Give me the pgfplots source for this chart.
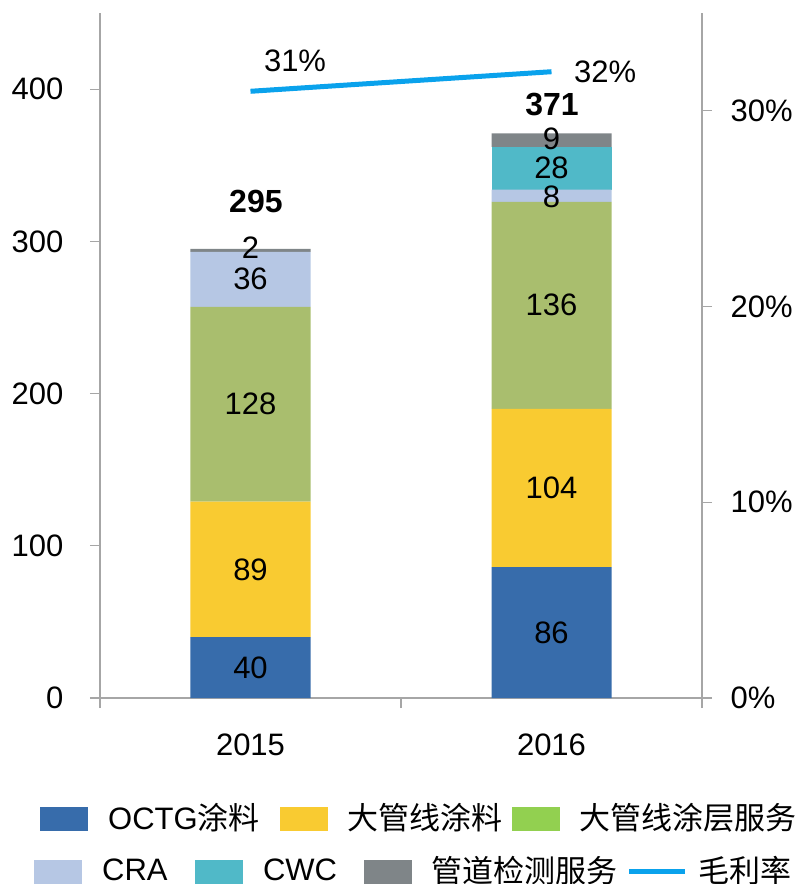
\documentclass[border=0pt]{standalone}
\usepackage{fontspec}
\setmainfont{Liberation Sans}
\newfontfamily\cjk{Noto Sans CJK SC}
\usepackage{pgfplots}
\usepackage{pgfplotstable}
\pgfplotsset{compat=1.18}
\definecolor{cOCTG}{HTML}{376CAB}
\definecolor{cYel}{HTML}{F9CB31}
\definecolor{cGrn}{HTML}{A9BE6E}
\definecolor{cGrnL}{HTML}{92D050}
\definecolor{cCRA}{HTML}{B6C7E4}
\definecolor{cCWC}{HTML}{50B9C8}
\definecolor{cGry}{HTML}{7F8588}
\definecolor{cLine}{HTML}{0AA2EC}
\definecolor{axgray}{HTML}{A6A6A6}
\pgfplotstableread{
x OCTG DGXTL DGXTC CRA CWC GDJC
0.5 40 89 128 36 0 2
1.5 86 104 136 8 28 9
}\bars
\pgfplotstableread{
x gm
0.5 31
1.5 32
}\margin
\pgfplotsset{
  common/.style={
    scale only axis, width=301pt, height=342.5pt,
    xmin=0, xmax=2, ymin=0,
  },
  swatch/.style={legend image code/.code={\fill[#1] (0pt,-5.75pt) rectangle (23.5pt,5.75pt);}},
}
\begin{document}
\fontsize{15.5}{18.6}\selectfont
\begin{tikzpicture}[font=\fontsize{15.5}{18.6}\selectfont]
\useasboundingbox (-50pt,-93pt) rectangle (349pt,349pt);
% bars axis
\begin{axis}[common, ymax=450,
  ybar stacked, bar width=60pt,
  axis x line*=bottom, axis y line*=left,
  axis line style={axgray, line width=0.6pt},
  tick style={axgray, line width=0.6pt},
  tick align=outside, major tick length=5pt,
  xtick={0,1,2}, xticklabels={,,},
  extra x ticks={0.5,1.5}, extra x tick labels={2015,2016},
  extra x tick style={major tick length=0pt, xticklabel style={yshift=-12.5pt}},
  ytick={0,100,200,300,400}, yticklabels={0,100,200,300,400},
  yticklabel style={xshift=-8pt},
  legend style={at={(axis description cs:-0.0997,-0.1759)}, anchor=west,
    draw=none, fill=none, inner sep=0pt, legend columns=3,
    nodes={inner sep=0pt, font=\fontsize{15.5}{18.6}\selectfont},
    /tikz/every odd column/.append style={column sep=10pt}},
  legend cell align=left,
]
\addlegendimage{swatch=cOCTG}
\addlegendentry{\makebox[86pt][l]{OCTG{\cjk 涂料}}}
\addlegendimage{swatch=cYel}
\addlegendentry{\makebox[82pt][l]{\cjk 大管线涂料}}
\addlegendimage{swatch=cGrnL}
\addlegendentry{{\cjk 大管线涂层服务}}
\addplot[fill=cOCTG, draw=none, forget plot] table[x=x,y=OCTG]{\bars};
\addplot[fill=cYel, draw=none, forget plot] table[x=x,y=DGXTL]{\bars};
\addplot[fill=cGrn, draw=none, forget plot] table[x=x,y=DGXTC]{\bars};
\addplot[fill=cCRA, draw=none, forget plot] table[x=x,y=CRA]{\bars};
\addplot[fill=cCWC, draw=none, forget plot] table[x=x,y=CWC]{\bars};
\addplot[fill=cGry, draw=none, forget plot] table[x=x,y=GDJC]{\bars};
\end{axis}
% labels axis
\begin{axis}[common, ymax=450, hide axis, clip=false]
\addplot[draw=none, mark=none, nodes near coords, point meta=explicit symbolic,
  every node near coord/.append style={anchor=center, inner sep=0pt}]
 coordinates {(0.5,19.7)[40] (0.5,84.5)[89] (0.5,193)[128] (0.5,275.3)[36] (0.5,296)[2]
   (1.5,43)[86] (1.5,138)[104] (1.5,258)[136] (1.5,329.5)[8] (1.5,348.5)[28] (1.5,367.5)[9]};
\addplot[draw=none, mark=none, nodes near coords, point meta=explicit symbolic,
  every node near coord/.append style={anchor=center, inner sep=0pt, font=\fontsize{16}{19}\selectfont\bfseries}]
 coordinates {(0.518,326.5)[295] (1.502,389.6)[371]};
\end{axis}
% margin axis
\begin{axis}[common, ymax=35,
  axis x line=none, axis y line*=right,
  axis line style={axgray, line width=0.6pt},
  tick style={axgray, line width=0.6pt},
  tick align=outside, major tick length=5pt,
  ytick={0,10,20,30}, yticklabels={0\%,10\%,20\%,30\%},
  yticklabel style={xshift=4pt},
  clip=false,
  legend style={at={(axis description cs:-0.1096,-0.2540)}, anchor=west,
    draw=none, fill=none, inner sep=0pt, legend columns=4,
    nodes={inner sep=0pt, font=\fontsize{15.5}{18.6}\selectfont},
    /tikz/every odd column/.append style={column sep=10pt}},
  legend cell align=left,
]
\addlegendimage{swatch=cCRA}
\addlegendentry{\makebox[46.5pt][l]{CRA}}
\addlegendimage{swatch=cCWC}
\addlegendentry{\makebox[50.5pt][l]{CWC}}
\addlegendimage{swatch=cGry}
\addlegendentry{\makebox[97.5pt][l]{\cjk 管道检测服务}}
\addlegendimage{legend image code/.code={\draw[cLine, line width=2.5pt] (0pt,0pt) -- (28pt,0pt);}}
\addlegendentry{\hspace{-4.5pt}{\cjk 毛利率}}
\addplot[cLine, line width=2.5pt, mark=none, forget plot] table[x=x,y=gm]{\margin};
\addplot[draw=none, mark=none, nodes near coords, point meta=explicit symbolic, forget plot,
  every node near coord/.append style={anchor=center, inner sep=0pt}]
 coordinates {(0.648,32.55)[31\%] (1.678,31.99)[32\%]};
\end{axis}
\end{tikzpicture}
\end{document}
